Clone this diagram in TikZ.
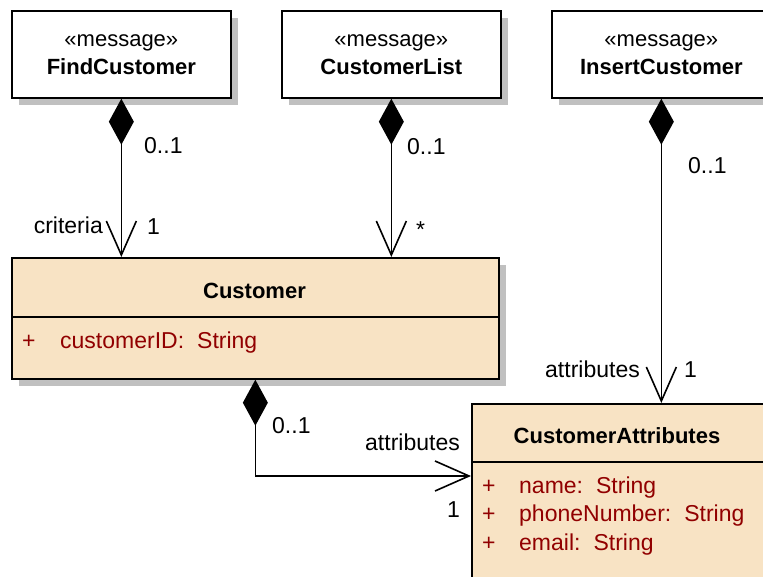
\documentclass[tikz,border=0pt]{standalone}
\usepackage{fontspec}
\setmainfont{Liberation Sans}
\usetikzlibrary{arrows.meta,shadows}
\definecolor{classfill}{RGB}{248,227,196}
\definecolor{attrred}{RGB}{145,0,0}
\definecolor{shadowgray}{RGB}{192,192,192}
\begin{document}
\begin{tikzpicture}[x=1pt,y=-1pt,
  box/.style={draw, line width=1.7pt, anchor=north west, inner sep=0pt,
    drop shadow={shadow xshift=7pt, shadow yshift=-7pt, fill=shadowgray, opacity=1}},
  msgbox/.style={box, fill=white, minimum width=219pt, minimum height=87pt,
    align=center, font=\fontsize{22}{28}\selectfont},
  classbox/.style={box, fill=classfill},
  divider/.style={line width=1.7pt},
  lbl/.style={inner sep=0pt, font=\fontsize{23}{26}\selectfont},
  cname/.style={inner sep=0pt, anchor=base, font=\fontsize{22}{26}\selectfont\bfseries},
  attr/.style={lbl, text=attrred, anchor=base west},
  assoc/.style={line width=1.6pt,
    {Diamond[length=46pt,width=25pt]}-{Straight Barb[length=34pt,width=30pt]}}
]
\useasboundingbox (0,0) rectangle (763,576);
\clip (0,0) rectangle (763,576);

% message boxes
\node[msgbox] (fc) at (11,10) {«message»\\\textbf{FindCustomer}};
\node[msgbox] (cl) at (281,10) {«message»\\\textbf{CustomerList}};
\node[msgbox] (ic) at (551,10) {«message»\\\textbf{InsertCustomer}};

% class boxes
\node[classbox, minimum width=487pt, minimum height=121pt] (cu) at (11,257) {};
\node[classbox, minimum width=294pt, minimum height=200pt] (ca) at (471,403) {};

\draw[divider] ([yshift=-60pt]cu.north west) -- ([yshift=-60pt]cu.north east);
\draw[divider] ([yshift=-59pt]ca.north west) -- ([yshift=-59pt]ca.north east);

% class contents
\node[cname] (cuname) at (254.5,298) {Customer};
\node[attr] (cuplus) at (22,348) {+};
\node[attr] (cuid) at (60,348) {customerID:\hspace{13pt}String};

\node[cname] (caname) at (617,443) {CustomerAttributes};
\node[attr] (caplus1) at (482,493) {+};
\node[attr] (caname1) at (519,493) {name:\hspace{13pt}String};
\node[attr] (caplus2) at (482,521.5) {+};
\node[attr] (caphone) at (519,521.5) {phoneNumber:\hspace{13pt}String};
\node[attr] (caplus3) at (482,550) {+};
\node[attr] (caemail) at (519,550) {email:\hspace{13pt}String};

% connectors
\draw[assoc] (fc.south) -- (fc.south |- cu.north);
\draw[assoc] (cl.south) -- (cl.south |- cu.north);
\draw[assoc] (ic.south) -- (ic.south |- ca.north);
\draw[assoc] (cu.south) |- ([yshift=-73pt]ca.north west);

% labels
\node[lbl, anchor=base west] (fcm1) at (144,153) {0..1};
\node[lbl, anchor=base east] (fcrole) at (103,233) {criteria};
\node[lbl, anchor=base west] (fcm2) at (147,234) {1};

\node[lbl, anchor=base west] (clm1) at (407,154) {0..1};
\node[lbl, anchor=base west] (clm2) at (416,237) {*};

\node[lbl, anchor=base west] (icm1) at (688,173) {0..1};
\node[lbl, anchor=base east] (icrole) at (640,377) {attributes};
\node[lbl, anchor=base west] (icm2) at (684,377) {1};

\node[lbl, anchor=base west] (cum1) at (272,433) {0..1};
\node[lbl, anchor=base east] (curole) at (460,450) {attributes};
\node[lbl, anchor=base west] (cum2) at (447,517) {1};
\end{tikzpicture}
\end{document}
